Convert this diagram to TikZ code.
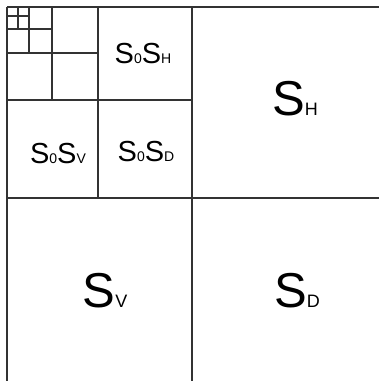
\documentclass[tikz,border=0pt]{standalone}
\usepackage{fontspec}
\setmainfont{Liberation Sans}
\begin{document}
\begin{tikzpicture}[x=1pt,y=-1pt,
  grid/.style={draw=black!80,line width=1.1pt},
  big/.style={anchor=base,inner sep=0pt,font=\fontsize{49}{49}\selectfont},
  small/.style={anchor=base,inner sep=0pt,font=\fontsize{29}{29}\selectfont}]
\useasboundingbox (0,0) rectangle (379,381);
% outer
\draw[grid] (7,7) -- (379,7);
\draw[grid] (7,7) -- (7,381);
% level 1
\draw[grid] (192,7) -- (192,381);
\draw[grid] (7,198) -- (379,198);
% level 2
\draw[grid] (98,7) -- (98,198);
\draw[grid] (7,100) -- (192,100);
% level 3
\draw[grid] (52,7) -- (52,100);
\draw[grid] (7,53) -- (98,53);
% level 4
\draw[grid] (29,7) -- (29,53);
\draw[grid] (7,29) -- (52,29);
% level 5
\draw[grid] (18,7) -- (18,29);
\draw[grid] (7,16) -- (29,16);
% labels
\node[big] (sh) at (295,115) {S{\fontsize{18}{18}\selectfont H}};
\node[big] (sv) at (105,307) {S{\fontsize{18}{18}\selectfont V}};
\node[big] (sd) at (297,307) {S{\fontsize{18}{18}\selectfont D}};
\node[small] (ssh) at (143,63) {S{\fontsize{14}{14}\selectfont 0}S{\fontsize{14}{14}\selectfont H}};
\node[small] (ssv) at (58,163) {S{\fontsize{14}{14}\selectfont 0}S{\fontsize{14}{14}\selectfont V}};
\node[small] (ssd) at (146,161) {S{\fontsize{14}{14}\selectfont 0}S{\fontsize{14}{14}\selectfont D}};
\end{tikzpicture}
\end{document}
